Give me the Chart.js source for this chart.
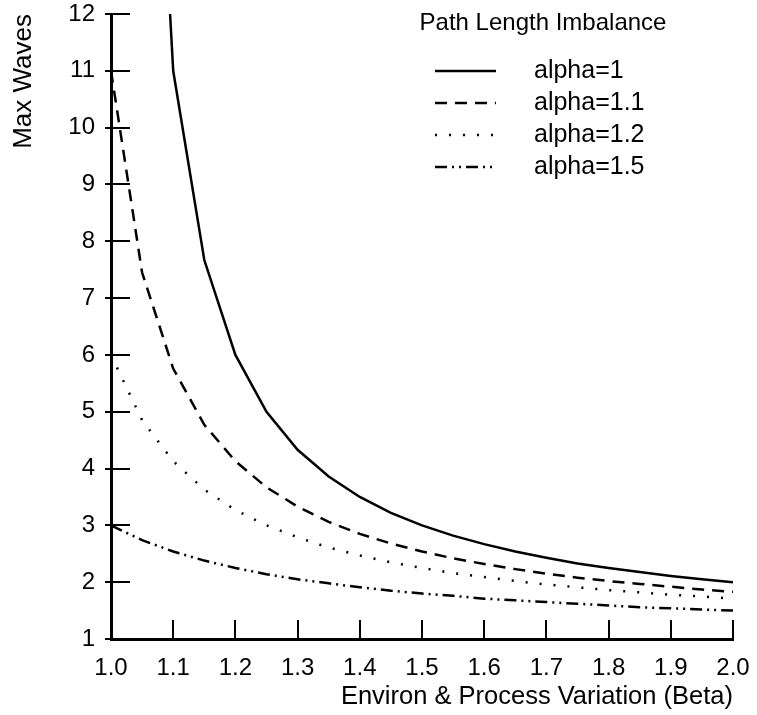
<!DOCTYPE html>
<html>
<head>
<meta charset="utf-8">
<script src="https://cdn.jsdelivr.net/npm/chart.js@4"></script>
<style>
  html, body { margin: 0; padding: 0; background: #fff; }
  #wrap { width: 757px; height: 715px; }
</style>
</head>
<body>
<div id="wrap"><canvas id="chart" width="757" height="715"></canvas></div>
<script>
// beta values on the x axis
var betaValues = [1.00, 1.05, 1.10, 1.15, 1.20, 1.25, 1.30, 1.35, 1.40, 1.45, 1.50,
                  1.55, 1.60, 1.65, 1.70, 1.75, 1.80, 1.85, 1.90, 1.95, 2.00];

var alpha1 = [null, 21, 11, 7.67, 6.0, 5.0, 4.33, 3.86, 3.5, 3.22, 3.0,
              2.82, 2.67, 2.54, 2.43, 2.33, 2.25, 2.18, 2.11, 2.05, 2.0];
var alpha11 = [11, 7.45, 5.76, 4.77, 4.13, 3.67, 3.33, 3.06, 2.85, 2.68, 2.54,
               2.42, 2.32, 2.23, 2.15, 2.08, 2.02, 1.97, 1.92, 1.87, 1.83];
var alpha12 = [6.0, 4.85, 4.13, 3.63, 3.27, 3.0, 2.79, 2.61, 2.47, 2.35, 2.25,
               2.16, 2.09, 2.02, 1.96, 1.91, 1.86, 1.82, 1.78, 1.75, 1.71];
var alpha15 = [3.0, 2.74, 2.54, 2.38, 2.25, 2.14, 2.05, 1.98, 1.91, 1.85, 1.8,
               1.76, 1.71, 1.68, 1.65, 1.62, 1.59, 1.56, 1.54, 1.52, 1.5];

var seriesLabels = ['alpha=1', 'alpha=1.1', 'alpha=1.2', 'alpha=1.5'];
var xTicks = [1.0, 1.1, 1.2, 1.3, 1.4, 1.5, 1.6, 1.7, 1.8, 1.9, 2.0];
var yTicks = [1, 2, 3, 4, 5, 6, 7, 8, 9, 10, 11, 12];

var FONT = '"Liberation Sans", Arial, Helvetica, sans-serif';
var dashes = [[], [12, 8], [2, 12], [12, 5, 2, 5, 2, 5]];

function points(ys) {
    return betaValues.map(function (b, i) { return { x: b, y: ys[i] }; });
}

var seriesData = [alpha1, alpha11, alpha12, alpha15];
var datasets = seriesData.map(function (ys, i) {
    return {
        label: seriesLabels[i],
        data: points(ys),
        borderColor: '#000',
        borderWidth: 2.5,
        borderDash: dashes[i],
        borderCapStyle: 'butt',
        pointRadius: 0,
        tension: 0,
        fill: false
    };
});

// tick marks drawn inward from the axes
var innerTicks = {
    id: 'innerTicks',
    afterDatasetsDraw: function (chart) {
        var ctx = chart.ctx;
        var xs = chart.scales.x, ys = chart.scales.y;
        var area = chart.chartArea;
        ctx.save();
        ctx.strokeStyle = '#000';
        ctx.lineWidth = 2;
        ctx.beginPath();
        xTicks.forEach(function (v) {
            var px = Math.round(xs.getPixelForValue(v));
            ctx.moveTo(px, area.bottom);
            ctx.lineTo(px, area.bottom - 19);
        });
        yTicks.forEach(function (v) {
            var py = Math.round(ys.getPixelForValue(v));
            ctx.moveTo(area.left - 6, py);
            ctx.lineTo(area.left + 19, py);
        });
        ctx.stroke();
        ctx.restore();
    }
};

// legend block in the upper right
var legendBlock = {
    id: 'legendBlock',
    afterDraw: function (chart) {
        var ctx = chart.ctx;
        ctx.save();
        ctx.fillStyle = '#000';
        ctx.font = '24px ' + FONT;
        ctx.textBaseline = 'middle';
        ctx.textAlign = 'center';
        ctx.fillText('Path Length Imbalance', 543, 23);
        ctx.textAlign = 'left';
        ctx.font = '25px ' + FONT;
        chart.data.datasets.forEach(function (ds, i) {
            var y = 71 + i * 32;
            ctx.strokeStyle = '#000';
            ctx.lineWidth = 2.5;
            ctx.setLineDash(ds.borderDash);
            ctx.beginPath();
            ctx.moveTo(435, y);
            ctx.lineTo(496, y);
            ctx.stroke();
            ctx.setLineDash([]);
            ctx.fillText(ds.label, 534, y);
        });
        ctx.restore();
    }
};

new Chart(document.getElementById('chart').getContext('2d'), {
    type: 'line',
    data: { datasets: datasets },
    plugins: [innerTicks, legendBlock],
    options: {
        responsive: false,
        animation: false,
        layout: { padding: { left: 0, right: 24, top: 14, bottom: 0 } },
        plugins: { legend: { display: false }, tooltip: { enabled: false } },
        scales: {
            x: {
                type: 'linear',
                min: 1,
                max: 2,
                afterFit: function (s) { s.height = 76; },
                afterBuildTicks: function (s) {
                    s.ticks = xTicks.map(function (v) { return { value: v }; });
                },
                grid: { display: false },
                border: { display: true, color: '#000', width: 3 },
                ticks: {
                    color: '#000',
                    padding: 7,
                    font: { family: FONT, size: 24 },
                    callback: function (v) { return Number(v).toFixed(1); }
                },
                title: {
                    display: true,
                    text: 'Environ & Process Variation (Beta)',
                    align: 'end',
                    color: '#000',
                    font: { family: FONT, size: 25.5 },
                    padding: { top: 0, bottom: 3 }
                }
            },
            y: {
                type: 'linear',
                min: 1,
                max: 12,
                afterFit: function (s) {
                    s.width = 111;
                    s.paddingTop = 0;
                    s.paddingBottom = 0;
                },
                afterBuildTicks: function (s) {
                    s.ticks = yTicks.map(function (v) { return { value: v }; });
                },
                grid: { display: false },
                border: { display: true, color: '#000', width: 3 },
                ticks: {
                    color: '#000',
                    padding: 8,
                    font: { family: FONT, size: 24 }
                },
                title: {
                    display: true,
                    text: 'Max Waves',
                    align: 'end',
                    color: '#000',
                    font: { family: FONT, size: 26 },
                    padding: { top: 8, bottom: 0 }
                }
            }
        }
    }
});
</script>
</body>
</html>
